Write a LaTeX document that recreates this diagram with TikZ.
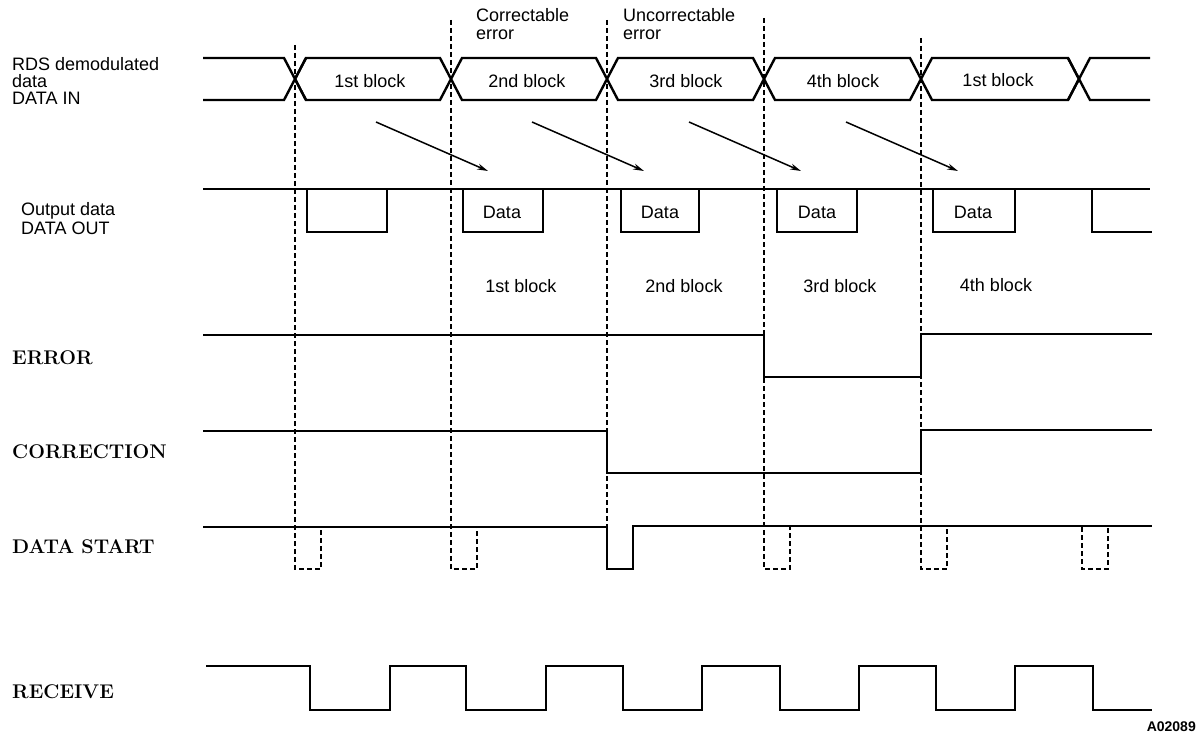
\documentclass[tikz,border=0pt]{standalone}
\usepackage{fontspec}
\newfontfamily\lsans{Liberation Sans}
\usetikzlibrary{arrows.meta}
\begin{document}
\begin{tikzpicture}[x=1pt,y=-1pt,
  sig/.style={line width=2.4pt, line join=miter},
  gridline/.style={line width=1.3pt, dash pattern=on 5pt off 3pt},
  flow/.style={line width=1.5pt, -{Stealth[length=11pt,width=6pt]}},
  sl/.style={font=\lsans\fontsize{18}{20}\selectfont, inner sep=0pt},
  rl/.style={font=\bfseries\fontsize{19.8}{23}\selectfont, inner sep=0pt, anchor=west},
]
\useasboundingbox (0,0) rectangle (1203,741);

% ---- left labels
\node[sl, anchor=west] (l1a) at (12,64) {RDS demodulated};
\node[sl, anchor=west] (l1b) at (12,81) {data};
\node[sl, anchor=west] (l1c) at (12,98) {DATA IN};
\node[sl, anchor=west] (l2a) at (21,211) {Output data};
\node[sl, anchor=west] (l2b) at (21,228) {DATA OUT};
\node[rl] (lerr) at (12,358) {ERROR};
\node[rl] (lcor) at (12,452) {CORRECTION};
\node[rl] (lds) at (12,547) {DATA START};
\node[rl] (lrec) at (12,692) {RECEIVE};

% ---- top annotations
\node[sl, anchor=west] (ce1) at (476,15) {Correctable};
\node[sl, anchor=west] (ce2) at (476,35) {error};
\node[sl, anchor=west] (ue1) at (623,15) {Uncorrectable};
\node[sl, anchor=west] (ue2) at (623,35) {error};

% ---- dashed timing lines
\draw[gridline] (295,45) -- (295,569) -- (321,569) -- (321,527);
\draw[gridline] (451,20) -- (451,569) -- (477,569) -- (477,527);
\draw[gridline] (607,20) -- (607,527);
\draw[gridline] (764,18) -- (764,569) -- (790,569) -- (790,527);
\draw[gridline] (921,38) -- (921,569) -- (947,569) -- (947,527);
\draw[gridline] (1082,527) -- (1082,569) -- (1108,569) -- (1108,527);

% ---- DATA IN
\draw[sig] (203,58) -- (284,58) -- (306,100);
\draw[sig] (203,100) -- (284,100) -- (306,58);
\foreach \a/\b in {295/451,451/607,607/764,764/921,921/1079}
  \draw[sig] (\a,79) -- (\a+11,58) -- (\b-11,58) -- (\b,79) -- (\b-11,100) -- (\a+11,100) -- cycle;
\draw[sig] (1150,58) -- (1090,58) -- (1068,100);
\draw[sig] (1150,100) -- (1090,100) -- (1068,58);
\node[sl] (b1) at (370,81) {1st block};
\node[sl] (b2) at (527,81) {2nd block};
\node[sl] (b3) at (686,81) {3rd block};
\node[sl] (b4) at (843,81) {4th block};
\node[sl] (b5) at (998,80) {1st block};

% ---- arrows
\coordinate (a1s) at (376,122); \coordinate (a1e) at (488,171);
\coordinate (a2s) at (532,122); \coordinate (a2e) at (644,171);
\coordinate (a3s) at (689,122); \coordinate (a3e) at (801,171);
\coordinate (a4s) at (846,122); \coordinate (a4e) at (958,171);
\draw[flow] (a1s) -- (a1e);
\draw[flow] (a2s) -- (a2e);
\draw[flow] (a3s) -- (a3e);
\draw[flow] (a4s) -- (a4e);

% ---- DATA OUT
\draw[sig] (203,189) -- (1150,189);
\draw[sig] (307,189) -- (307,232) -- (387,232) -- (387,189);
\draw[sig] (463,189) -- (463,232) -- (543,232) -- (543,189);
\draw[sig] (621,189) -- (621,232) -- (699,232) -- (699,189);
\draw[sig] (777,189) -- (777,232) -- (857,232) -- (857,189);
\draw[sig] (933,189) -- (933,232) -- (1015,232) -- (1015,189);
\draw[sig] (1092,189) -- (1092,232) -- (1152,232);
\node[sl] (d1) at (502,212) {Data};
\node[sl] (d2) at (660,212) {Data};
\node[sl] (d3) at (817,212) {Data};
\node[sl] (d4) at (973,212) {Data};
\node[sl] (o1) at (521,286) {1st block};
\node[sl] (o2) at (684,286) {2nd block};
\node[sl] (o3) at (840,286) {3rd block};
\node[sl] (o4) at (996,285) {4th block};

% ---- ERROR
\draw[sig] (203,335) -- (764,335) -- (764,377) -- (921,377) -- (921,334) -- (1152,334);
% ---- CORRECTION
\draw[sig] (203,431) -- (607,431) -- (607,473) -- (921,473) -- (921,430) -- (1152,430);
% ---- DATA START
\draw[sig] (203,527) -- (607,527) -- (607,569) -- (633,569) -- (633,526) -- (1152,526);
% ---- RECEIVE
\draw[sig] (206,666) -- (310,666) -- (310,710) -- (390,710) -- (390,666)
  -- (466,666) -- (466,710) -- (546,710) -- (546,666)
  -- (623,666) -- (623,710) -- (702,710) -- (702,666)
  -- (780,666) -- (780,710) -- (859,710) -- (859,666)
  -- (936,666) -- (936,710) -- (1015,710) -- (1015,666)
  -- (1093,666) -- (1093,710) -- (1152,710);

\node[font=\lsans\bfseries\fontsize{14}{16}\selectfont, inner sep=0pt, anchor=east] (code) at (1196,727) {A02089};
\end{tikzpicture}
\end{document}
